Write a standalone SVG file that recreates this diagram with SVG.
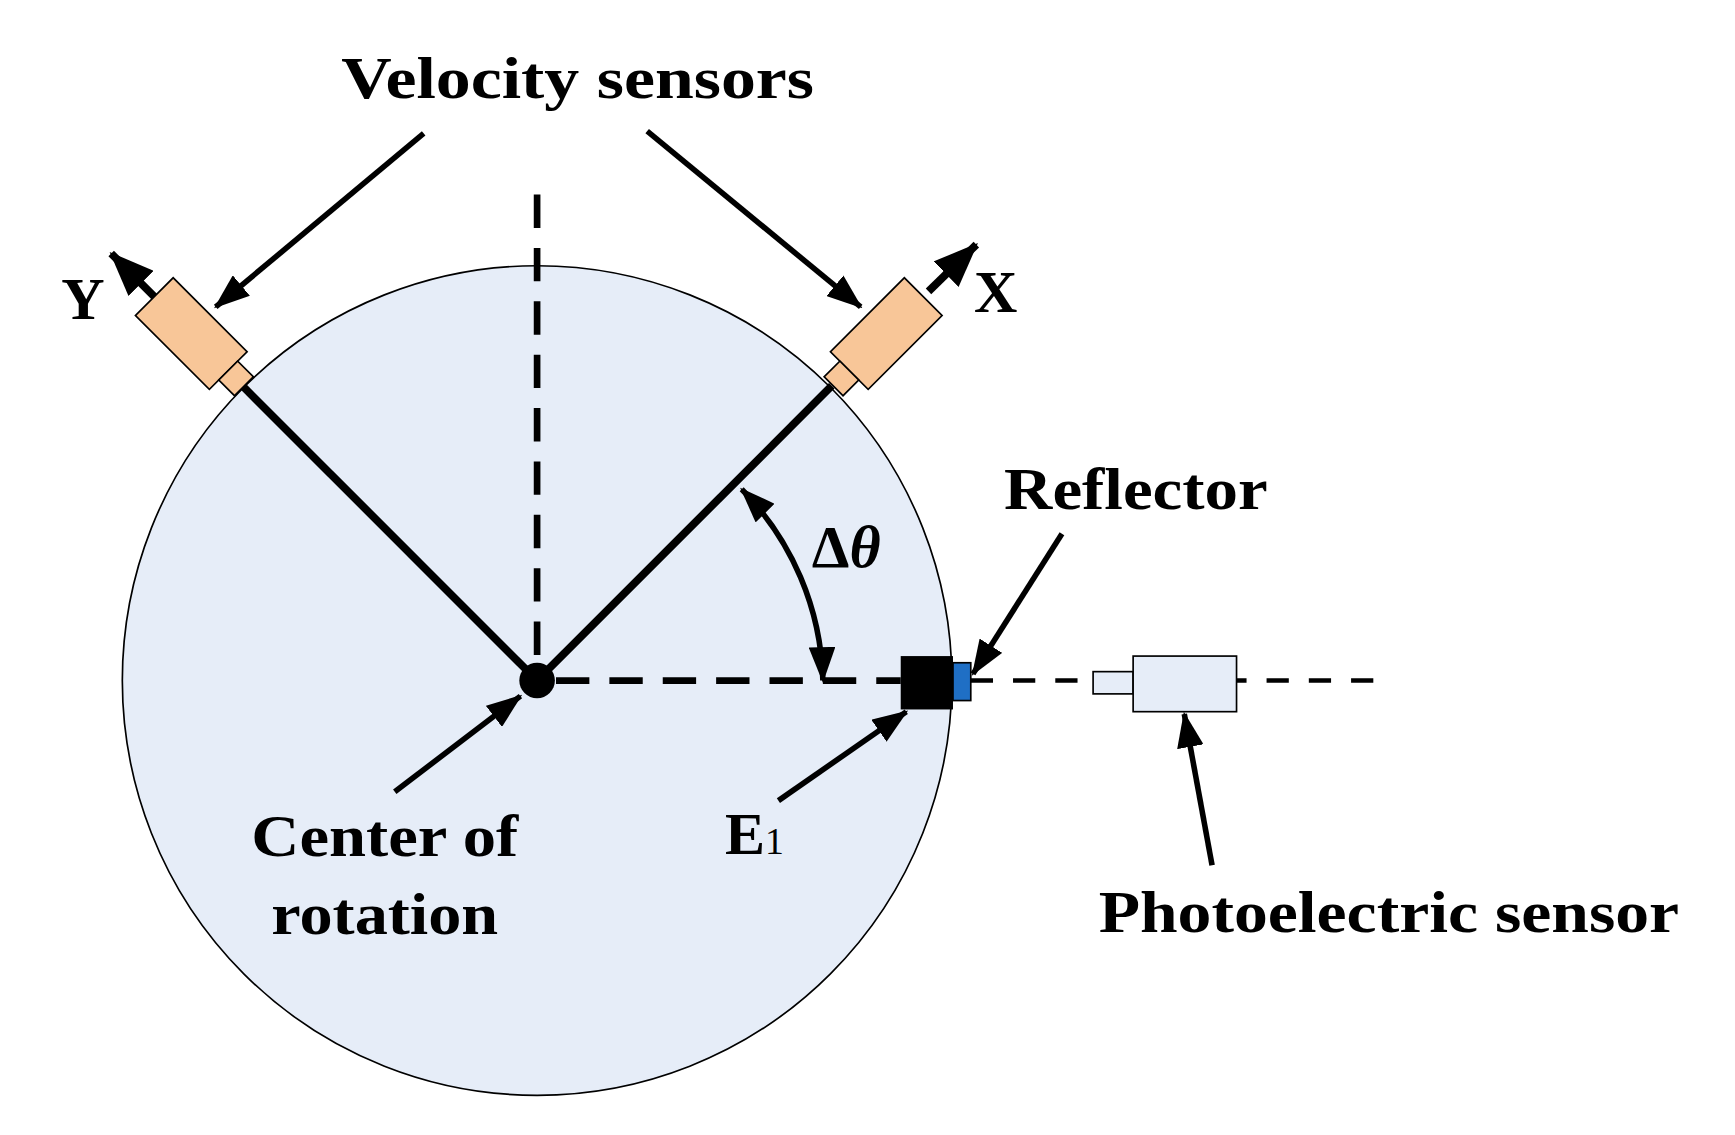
<svg xmlns="http://www.w3.org/2000/svg" width="1735" height="1135" viewBox="0 0 1735 1135">
<style>
text{font-family:"Liberation Serif",serif;font-weight:bold;fill:#000}
.lbl{font-size:54px}
.dash{stroke:#000;stroke-width:6;stroke-dasharray:30 18;fill:none}
.solid{stroke:#000;stroke-width:7;fill:none}
.lead{stroke:#000;stroke-width:5;fill:none}
.sens{fill:#F8C698;stroke:#000;stroke-width:1.5}
</style>
<defs>
<marker id="big" viewBox="0 0 32 24" refX="30" refY="12" markerWidth="32" markerHeight="24" orient="auto-start-reverse" markerUnits="userSpaceOnUse">
<path d="M0,0 L32,12 L0,24 z" fill="#000"/>
</marker>
<marker id="axis" viewBox="0 0 40 32" refX="38" refY="16" markerWidth="40" markerHeight="32" orient="auto" markerUnits="userSpaceOnUse">
<path d="M0,0 L40,16 L0,32 z" fill="#000"/>
</marker>
</defs>
<rect width="1735" height="1135" fill="#fff"/>
<g transform="scale(1.112)">
<g id="disk">
<circle cx="483" cy="612" r="373" fill="#E6EDF8" stroke="#000" stroke-width="1.5"/>
</g>
<g id="connectors">
<line class="dash" x1="483" y1="175" x2="483" y2="600"/>
<line class="dash" x1="500" y1="612" x2="810" y2="612"/>
<line class="solid" x1="483" y1="612" x2="218" y2="347"/>
<line class="solid" x1="483" y1="612" x2="748" y2="347"/>
<line x1="873" y1="612" x2="1235" y2="612" stroke="#000" stroke-width="4" stroke-dasharray="20 18"/>
<line class="solid" x1="140" y1="268" x2="100" y2="228" marker-end="url(#axis)"/>
<line class="solid" x1="835" y1="262" x2="878" y2="220" marker-end="url(#axis)"/>
<line class="lead" x1="381" y1="120" x2="194" y2="276" marker-end="url(#big)"/>
<line class="lead" x1="582" y1="118" x2="774" y2="276" marker-end="url(#big)"/>
<path class="lead" d="M667,440 A254,254 0 0 1 740,612" marker-start="url(#big)" marker-end="url(#big)"/>
<line class="lead" x1="955" y1="480" x2="875" y2="606" marker-end="url(#big)"/>
<line class="lead" x1="700" y1="720" x2="815" y2="640" marker-end="url(#big)"/>
<line class="lead" x1="355" y1="712" x2="468" y2="626" marker-end="url(#big)"/>
<line class="lead" x1="1090" y1="778" x2="1065" y2="642" marker-end="url(#big)"/>
</g>
<g id="center"><circle cx="483" cy="612" r="16" fill="#000"/></g>
<g id="sensorY" transform="translate(172,300) rotate(-45)">
<rect class="sens" x="-24" y="-47" width="48" height="94"/>
<rect class="sens" x="-12" y="47" width="24" height="20"/>
</g>
<g id="sensorX" transform="translate(797,300) rotate(45)">
<rect class="sens" x="-24" y="-47" width="48" height="94"/>
<rect class="sens" x="-12" y="47" width="24" height="20"/>
</g>
<g id="E1block"><rect x="810" y="590" width="47" height="48" fill="#000"/></g>
<g id="reflector"><rect x="857" y="596" width="16" height="34" fill="#1F6FC5" stroke="#000" stroke-width="1.5"/></g>
<g id="photo">
<rect x="983" y="604" width="36" height="20" fill="#E6EDF8" stroke="#000" stroke-width="1.5"/>
<rect x="1019" y="590" width="93" height="50" fill="#E6EDF8" stroke="#000" stroke-width="1.5"/>
</g>
<g id="labels">
<text class="lbl" x="307" y="88" textLength="425" lengthAdjust="spacingAndGlyphs">Velocity sensors</text>
<text class="lbl" x="55" y="287">Y</text>
<text class="lbl" x="876" y="281">X</text>
<text class="lbl" x="903" y="458" textLength="237" lengthAdjust="spacingAndGlyphs">Reflector</text>
<text class="lbl" x="730" y="510">Δ<tspan font-style="italic">θ</tspan></text>
<text class="lbl" x="652" y="768">E<tspan font-size="34" font-weight="normal">1</tspan></text>
<text class="lbl" x="226" y="770" textLength="240" lengthAdjust="spacingAndGlyphs">Center of</text>
<text class="lbl" x="244" y="840" textLength="204" lengthAdjust="spacingAndGlyphs">rotation</text>
<text class="lbl" x="988" y="838" textLength="522" lengthAdjust="spacingAndGlyphs">Photoelectric sensor</text>
</g>
</g>
</svg>
